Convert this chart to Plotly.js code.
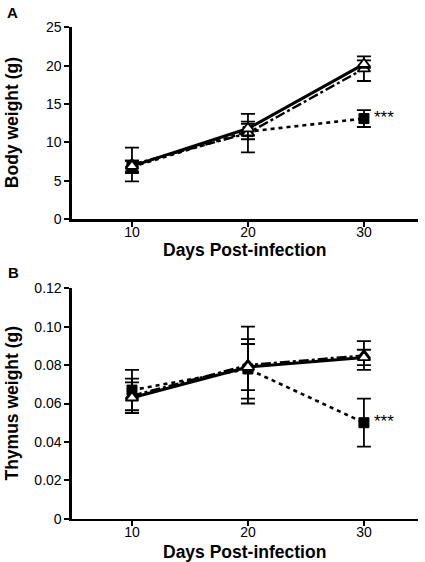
<!DOCTYPE html>
<html>
<head>
<meta charset="utf-8">
<script src="https://cdn.plot.ly/plotly-3.0.1.min.js"></script>
<style>html,body{margin:0;padding:0;background:#fff;}#chart{width:425px;height:562px;}</style>
</head>
<body>
<div id="chart"></div>
<script>
const days = [10, 20, 30];

const bodySolid = [6.9, 11.8, 20.2];
const bodySolidErr = [0.7, 0.9, 0.5];
const bodyDashDot = [7.1, 11.2, 19.6];
const bodyDashDotErr = [2.2, 2.5, 1.6];
const bodyDotted = [6.8, 11.4, 13.1];
const bodyDottedErr = [0.8, 1.0, 1.1];

const thymusSolid = [0.063, 0.079, 0.084];
const thymusSolidErr = [0.008, 0.012, 0.004];
const thymusDashDot = [0.064, 0.080, 0.085];
const thymusDashDotErr = [0.009, 0.020, 0.0075];
const thymusDotted = [0.067, 0.078, 0.050];
const thymusDottedErr = [0.0105, 0.0155, 0.0125];

const bodyTicks = [0, 5, 10, 15, 20, 25];
const thymusTicks = [0, 0.02, 0.04, 0.06, 0.08, 0.10, 0.12];
const thymusTickText = ['0', '0.02', '0.04', '0.06', '0.08', '0.10', '0.12'];
const dayTicks = [10, 20, 30];
const sigLabel = '***';
const xTitle = 'Days Post-infection';
const bodyTitle = 'Body weight (g)';
const thymusTitle = 'Thymus weight (g)';

const FONT = 'Liberation Sans, Arial, Helvetica, sans-serif';

function err(arr) {
  return {type: 'data', array: arr, visible: true, color: '#000', thickness: 1.8, width: 7};
}
function series(y, e, style, xa, ya) {
  const base = {x: days, y: y, error_y: err(e), xaxis: xa, yaxis: ya, mode: 'lines+markers', showlegend: false, hoverinfo: 'skip'};
  if (style === 'dotted') {
    base.line = {color: '#000', width: 2.6, dash: '4px,4px'};
    base.marker = {symbol: 'square', size: 10, color: '#000', line: {color: '#000', width: 1}};
  } else if (style === 'dashdot') {
    base.line = {color: '#000', width: 2.4, dash: '10px,3px,3px,3px'};
    base.marker = {symbol: 'triangle-up', size: 11, color: '#fff', line: {color: '#000', width: 1.8}};
  } else {
    base.line = {color: '#000', width: 3};
    base.marker = {symbol: 'triangle-up', size: 11, color: '#fff', line: {color: '#000', width: 1.8}};
  }
  return base;
}

const traces = [
  series(bodyDotted, bodyDottedErr, 'dotted', 'x', 'y'),
  series(bodyDashDot, bodyDashDotErr, 'dashdot', 'x', 'y'),
  series(bodySolid, bodySolidErr, 'solid', 'x', 'y'),
  series(thymusDotted, thymusDottedErr, 'dotted', 'x2', 'y2'),
  series(thymusDashDot, thymusDashDotErr, 'dashdot', 'x2', 'y2'),
  series(thymusSolid, thymusSolidErr, 'solid', 'x2', 'y2')
];

const tickFont = {family: FONT, size: 14, color: '#000'};
const titleFont = {family: FONT, size: 17.5, color: '#000', weight: 'bold'};

function xax(anchor) {
  return {
    domain: [0.1694, 0.9835], range: [4.83, 34.66], anchor: anchor,
    tickvals: dayTicks, ticktext: dayTicks.map(String),
    ticks: 'outside', ticklen: 5, tickwidth: 2, tickcolor: '#000',
    ticklabelstandoff: -6,
    showline: true, linecolor: '#000', linewidth: 2.6, showgrid: false, zeroline: false,
    tickfont: tickFont
  };
}
function yax(domain, range, vals, text, anchor) {
  return {
    domain: domain, range: range, anchor: anchor,
    tickvals: vals, ticktext: text,
    ticks: 'outside', ticklen: 5, tickwidth: 2, tickcolor: '#000',
    showline: true, linecolor: '#000', linewidth: 2.6, showgrid: false, zeroline: false,
    tickfont: tickFont
  };
}

const yDomA = [0.6103, 0.9514];
const yDomB = [0.0770, 0.4870];
const xMid = (0.1694 + 0.9835) / 2;

const layout = {
  width: 425, height: 562,
  margin: {l: 0, r: 0, t: 0, b: 0},
  paper_bgcolor: '#fff', plot_bgcolor: '#fff',
  xaxis: xax('y'),
  yaxis: yax(yDomA, [0, 25], bodyTicks, bodyTicks.map(String), 'x'),
  xaxis2: xax('y2'),
  yaxis2: yax(yDomB, [0, 0.12], thymusTicks, thymusTickText, 'x2'),
  annotations: [
    {text: '<b>A</b>', xref: 'paper', yref: 'paper', x: 12 / 425, y: 1 - 12 / 562, xanchor: 'center', yanchor: 'middle', showarrow: false,
     font: {family: FONT, size: 15, color: '#000'}},
    {text: '<b>B</b>', xref: 'paper', yref: 'paper', x: 13 / 425, y: 1 - 272 / 562, xanchor: 'center', yanchor: 'middle', showarrow: false,
     font: {family: FONT, size: 15, color: '#000'}},
    {text: '<b>' + bodyTitle + '</b>', xref: 'paper', yref: 'paper', x: 12 / 425, y: (yDomA[0] + yDomA[1]) / 2, xanchor: 'center', yanchor: 'middle',
     textangle: -90, showarrow: false, font: titleFont},
    {text: '<b>' + thymusTitle + '</b>', xref: 'paper', yref: 'paper', x: 12 / 425, y: (yDomB[0] + yDomB[1]) / 2, xanchor: 'center', yanchor: 'middle',
     textangle: -90, showarrow: false, font: titleFont},
    {text: '<b>' + xTitle + '</b>', xref: 'paper', yref: 'paper', x: xMid, y: 1 - 250.5 / 562, xanchor: 'center', yanchor: 'middle',
     showarrow: false, font: titleFont},
    {text: '<b>' + xTitle + '</b>', xref: 'paper', yref: 'paper', x: xMid, y: 1 - 552 / 562, xanchor: 'center', yanchor: 'middle',
     showarrow: false, font: titleFont},
    {text: sigLabel, xref: 'x', yref: 'y', x: days[2], y: bodyDotted[2], xanchor: 'left', xshift: 8, yshift: 1, showarrow: false,
     font: {family: FONT, size: 17, color: '#000'}},
    {text: sigLabel, xref: 'x2', yref: 'y2', x: days[2], y: thymusDotted[2], xanchor: 'left', xshift: 8, yshift: 1, showarrow: false,
     font: {family: FONT, size: 17, color: '#000'}}
  ]
};

Plotly.newPlot('chart', traces, layout, {staticPlot: true, displayModeBar: false});
</script>
</body>
</html>
